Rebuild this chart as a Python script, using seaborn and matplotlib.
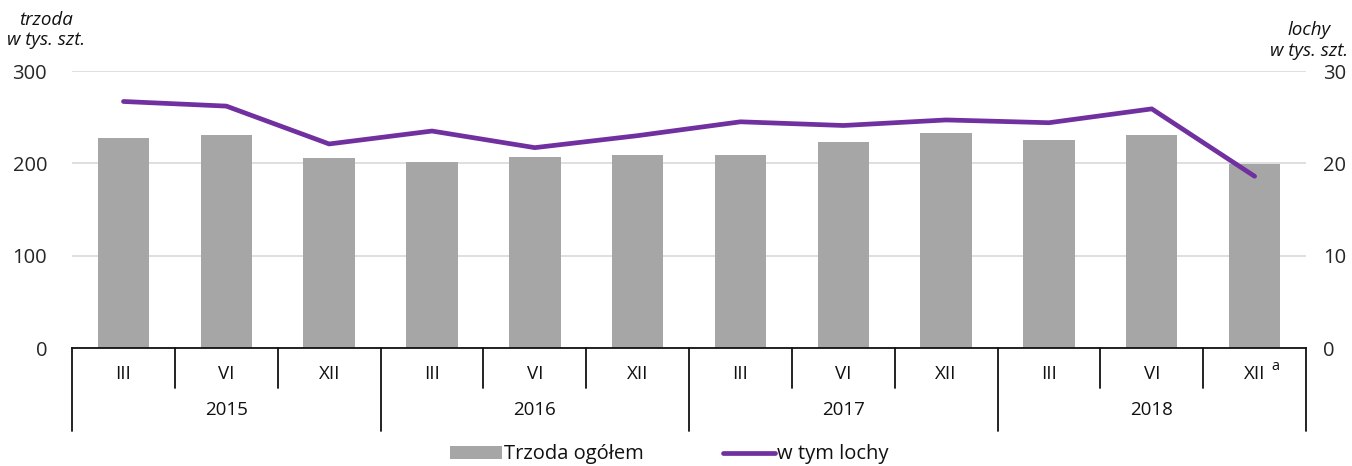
#!/usr/bin/env python3
import matplotlib

matplotlib.use("Agg")

import matplotlib.pyplot as plt
import pandas as pd
import seaborn as sns
from matplotlib.lines import Line2D
from matplotlib.patches import Patch

YEARS = ["2015", "2016", "2017", "2018"]
MONTHS = ["III", "VI", "XII"]
TRZODA = [227.5, 230.8, 205.8, 201.5, 206.9, 209.1, 209.1, 223.2, 232.9, 225.3, 230.8, 199.3]
LOCHY = [26.7, 26.2, 22.1, 23.5, 21.7, 23.0, 24.5, 24.1, 24.7, 24.4, 25.9, 18.6]

BAR_COLOR = "#A6A6A6"
LINE_COLOR = "#7030A0"
FONT = ["Open Sans", "DejaVu Sans"]


def main() -> None:
    sns.set_theme(style="white")
    plt.rcParams["font.family"] = FONT
    plt.rcParams["text.color"] = "#111111"

    n = len(TRZODA)
    df = pd.DataFrame(
        {
            "idx": list(range(n)),
            "month": [m for _ in YEARS for m in MONTHS],
            "year": [y for y in YEARS for _ in MONTHS],
            "trzoda": TRZODA,
            "lochy": LOCHY,
        }
    )

    fig = plt.figure(figsize=(13.52, 4.66), dpi=100)
    ax = fig.add_axes([0.0533, 0.2532, 0.9127, 0.5944])
    sns.barplot(data=df, x="idx", y="trzoda", color=BAR_COLOR, width=0.5,
                saturation=1, edgecolor="none", ax=ax)
    ax.set_xlim(-0.5, n - 0.5)
    ax.set_ylim(0, 300)
    ax.set_yticks([0, 100, 200, 300])
    ax.yaxis.grid(True, color="#D9D9D9", linewidth=1.2)
    ax.set_axisbelow(True)
    ax.tick_params(axis="y", length=0, labelsize=14.5, pad=18)
    ax.set_xticks([])
    ax.set_xlabel("")
    ax.set_ylabel("")
    for side in ["top", "right", "left"]:
        ax.spines[side].set_visible(False)
    ax.spines["bottom"].set_color("#111111")
    ax.spines["bottom"].set_linewidth(1.3)

    ax2 = ax.twinx()
    sns.lineplot(data=df, x="idx", y="lochy", color=LINE_COLOR, linewidth=3.4,
                 solid_capstyle="round", ax=ax2)
    ax2.set_ylim(0, 30)
    ax2.set_yticks([0, 10, 20, 30])
    ax2.tick_params(axis="y", length=0, labelsize=14.5, pad=12)
    ax2.set_xlabel("")
    ax2.set_ylabel("")
    ax2.grid(False)
    for side in ax2.spines:
        ax2.spines[side].set_visible(False)
    ax2.set_xlim(-0.5, n - 0.5)

    # multi-level category axis
    trans = ax.get_xaxis_transform()
    for i, row in df.iterrows():
        ax.text(i, -0.095, row["month"], transform=trans, ha="center", va="center",
                fontsize=13.5)
    ax.text(n - 1 + 0.2, -0.065, "a", transform=trans, ha="center", va="center", fontsize=10.5)
    for j, year in enumerate(YEARS):
        ax.text(j * 3 + 1, -0.225, year, transform=trans, ha="center", va="center",
                fontsize=13.5)
    for k in range(n + 1):
        x = k - 0.5
        low = -0.30 if k % 3 == 0 else -0.145
        ax.add_line(Line2D([x, x], [0, low], transform=trans, color="#111111",
                           linewidth=1.3, clip_on=False))

    # axis titles
    fig.text(0.034, 0.935, "trzoda\nw tys. szt.", ha="center", va="center",
             fontsize=13.5, style="italic", linespacing=1.15)
    fig.text(0.997, 0.913, "lochy\nw tys. szt.", ha="right", va="center",
             fontsize=13.5, style="italic", linespacing=1.15, multialignment="center")

    handles = [
        Patch(facecolor=BAR_COLOR, edgecolor="none", label="Trzoda ogółem"),
        Line2D([0], [0], color=LINE_COLOR, linewidth=3.4, label="w tym lochy"),
    ]
    fig.legend(handles=handles, loc="center", bbox_to_anchor=(0.495, 0.025), ncol=2,
               frameon=False, fontsize=14.5, handlelength=2.6, handletextpad=0.1,
               columnspacing=3.9, handleheight=0.6)

    fig.savefig("out.png", dpi=100)
    plt.close(fig)


if __name__ == "__main__":
    main()
